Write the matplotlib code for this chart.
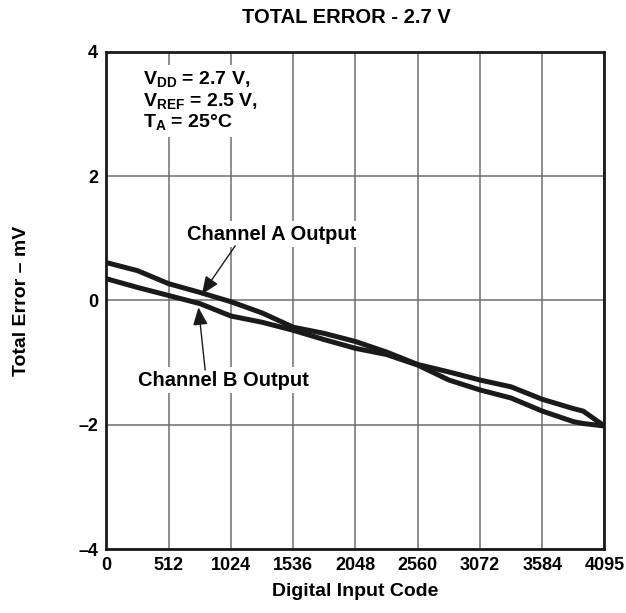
import matplotlib
matplotlib.use("Agg")
import matplotlib.pyplot as plt

plt.rcParams['font.family'] = ['Liberation Sans', 'DejaVu Sans']
plt.rcParams['font.weight'] = 'bold'
plt.rcParams['mathtext.fontset'] = 'custom'
plt.rcParams['mathtext.rm'] = 'Liberation Sans:bold'
plt.rcParams['mathtext.bf'] = 'Liberation Sans:bold'
plt.rcParams['mathtext.it'] = 'Liberation Sans:bold'

# Data
codes = [0, 256, 512, 768, 1024, 1280, 1536, 1792, 2048, 2304, 2560, 2816,
         3072, 3328, 3584, 3840, 3920, 4095]
channel_a = [0.61, 0.48, 0.27, 0.13, -0.02, -0.20, -0.43, -0.53, -0.66, -0.83,
             -1.03, -1.15, -1.28, -1.39, -1.59, -1.74, -1.78, -2.02]
channel_b = [0.35, 0.21, 0.08, -0.05, -0.25, -0.35, -0.48, -0.63, -0.77, -0.87,
             -1.04, -1.28, -1.44, -1.57, -1.78, -1.95, -1.98, -2.02]

x_ticks = [0, 512, 1024, 1536, 2048, 2560, 3072, 3584, 4095]
y_ticks = [-4, -2, 0, 2, 4]
y_tick_labels = ['\u20134', '\u20132', '0', '2', '4']

title = 'TOTAL ERROR - 2.7 V'
x_label = 'Digital Input Code'
y_label = 'Total Error \u2013 mV'

fig = plt.figure(figsize=(6.26, 6.13), dpi=100)
ax = fig.add_axes([0.1700, 0.1044, 0.7955, 0.8108])

ax.plot(codes, channel_a, color='#1a1a1a', lw=3.6, solid_capstyle='butt', zorder=4)
ax.plot(codes, channel_b, color='#1a1a1a', lw=3.6, solid_capstyle='butt', zorder=4)

ax.set_xlim(0, 4095)
ax.set_ylim(-4, 4)
ax.set_xticks(x_ticks)
ax.set_xticklabels([str(t) for t in x_ticks])
ax.set_yticks(y_ticks)
ax.set_yticklabels(y_tick_labels)
ax.tick_params(length=0, labelsize=13, pad=6)
for lab in ax.get_xticklabels() + ax.get_yticklabels():
    lab.set_fontweight('bold')

ax.grid(True, color='#6e6e6e', lw=1.1, zorder=1)
ax.set_axisbelow(True)
for s in ax.spines.values():
    s.set_linewidth(2.0)
    s.set_color('#1a1a1a')

fig.text(0.553, 0.972, title, ha='center', va='center', fontsize=14.5, fontweight='bold')
ax.set_xlabel(x_label, fontsize=14, fontweight='bold', labelpad=6)
ax.set_ylabel(y_label, fontsize=14, fontweight='bold', labelpad=35)

cond = ('$\\mathbf{V_{DD}}$ = 2.7 V,\n'
        '$\\mathbf{V_{REF}}$ = 2.5 V,\n'
        '$\\mathbf{T_{A}}$ = 25\u00b0C')
ax.text(300, 3.72, cond, ha='left', va='top', fontsize=14, fontweight='bold',
        linespacing=1.08, zorder=3,
        bbox=dict(boxstyle='square,pad=0.25', fc='white', ec='none'))

ax.text(1357, 1.07, 'Channel A Output', ha='center', va='center', fontsize=14.5,
        fontweight='bold', zorder=3,
        bbox=dict(boxstyle='square,pad=0.15', fc='white', ec='none'))
ax.text(964, -1.28, 'Channel B Output', ha='center', va='center', fontsize=14.5,
        fontweight='bold', zorder=3,
        bbox=dict(boxstyle='square,pad=0.15', fc='white', ec='none'))

arrow_style = '-|>,head_length=0.6,head_width=0.25'
ax.annotate('', xy=(785, 0.10), xytext=(1059, 0.88),
            arrowprops=dict(arrowstyle=arrow_style, color='#1a1a1a', lw=1.0,
                            mutation_scale=18, shrinkA=0, shrinkB=0), zorder=5)
ax.annotate('', xy=(757, -0.11), xytext=(812, -1.12),
            arrowprops=dict(arrowstyle=arrow_style, color='#1a1a1a', lw=1.0,
                            mutation_scale=18, shrinkA=0, shrinkB=0), zorder=5)

fig.savefig('out.png', dpi=100)
